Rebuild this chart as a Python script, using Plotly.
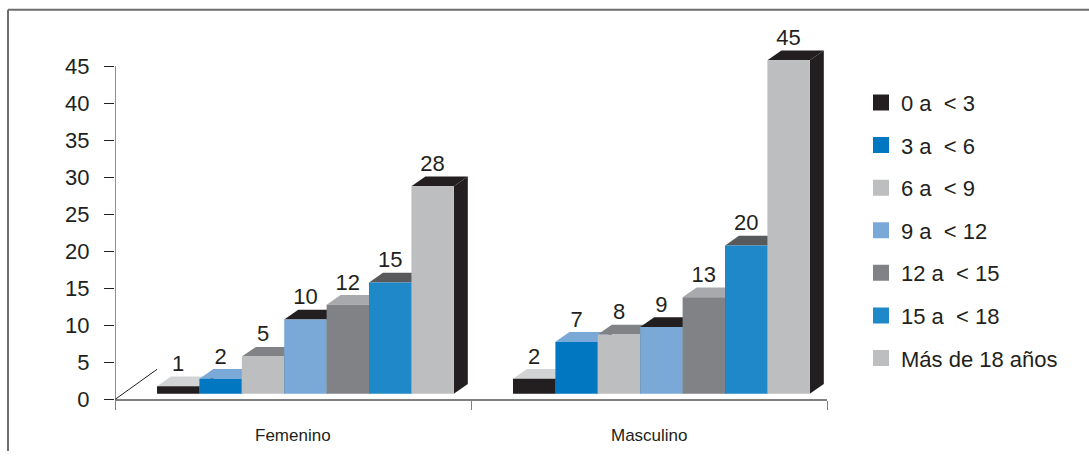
import plotly.graph_objects as go

# ---------------- data ----------------
categories = ["Femenino", "Masculino"]
series_names = ["0 a  < 3", "3 a  < 6", "6 a  < 9", "9 a  < 12",
                "12 a  < 15", "15 a  < 18", "Más de 18 años"]
femenino = [1, 2, 5, 10, 12, 15, 28]
masculino = [2, 7, 8, 9, 13, 20, 45]
y_ticks = [0, 5, 10, 15, 20, 25, 30, 35, 40, 45]

# ---------------- style ----------------
front_colors = ["#231f20", "#0077c0", "#bcbec0", "#7aa9d8", "#808285", "#1f88c9", "#bcbec0"]
top_colors = ["#d1d3d4", "#7aa9d8", "#808285", "#231f20", "#a7a9ac", "#58595b", "#231f20"]
side_color = "#231f20"
text_color = "#231f20"
axis_color = "#808080"
FONT = "Liberation Sans, Arial, sans-serif"

W, H = 1089, 464
X_LEFT_PX, X_RIGHT_PX = 115, 827
Y0_PX, Y45_PX, YTOP_PX = 411, 68, 20
px_per_unit_y = (Y0_PX - Y45_PX) / 45.0
y_max = (Y0_PX - YTOP_PX) / px_per_unit_y
px_per_unit_x = (X_RIGHT_PX - X_LEFT_PX) / 2.0

BAR_W = 42.4 / px_per_unit_x          # bar width in x units
X_START = -0.382                      # first bar left edge relative to category centre
BASE = 6 / px_per_unit_y              # bars sit slightly behind the front floor edge
DX = 14 / px_per_unit_x               # depth of a bar (x)
DY = 10 / px_per_unit_y               # depth of a bar (y)
FLOOR_DX = 42 / px_per_unit_x         # depth of the floor
FLOOR_DY = 31 / px_per_unit_y

values_by_cat = [femenino, masculino]

fig = go.Figure()

for c, vals in enumerate(values_by_cat):
    for i, v in enumerate(vals):
        x0 = c + X_START + i * BAR_W
        x1 = x0 + BAR_W
        yb = BASE
        yt = BASE + v
        # top face
        fig.add_trace(go.Scatter(
            x=[x0, x1, x1 + DX, x0 + DX, x0], y=[yt, yt, yt + DY, yt + DY, yt],
            mode="lines", fill="toself", fillcolor=top_colors[i],
            line=dict(width=0, color=top_colors[i]), hoverinfo="skip", showlegend=False))
        # side face
        fig.add_trace(go.Scatter(
            x=[x1, x1 + DX, x1 + DX, x1, x1], y=[yb, yb + DY, yt + DY, yt, yb],
            mode="lines", fill="toself", fillcolor=side_color,
            line=dict(width=0, color=side_color), hoverinfo="skip", showlegend=False))
        # front face
        fig.add_trace(go.Scatter(
            x=[x0, x1, x1, x0, x0], y=[yb, yb, yt, yt, yb],
            mode="lines", fill="toself", fillcolor=front_colors[i],
            line=dict(width=0, color=front_colors[i]), hoverinfo="skip", showlegend=False))
        # value label
        fig.add_trace(go.Scatter(
            x=[(x0 + x1) / 2], y=[yt + DY], mode="text", text=[str(v)],
            textposition="top center", cliponaxis=False,
            textfont=dict(family=FONT, size=22, color=text_color),
            hoverinfo="skip", showlegend=False))

# legend entries
for i, name in enumerate(series_names):
    fig.add_trace(go.Scatter(
        x=[None], y=[None], mode="markers", name=name, legendgroup=name,
        marker=dict(symbol="square", size=16, color=front_colors[i], line=dict(width=0))))

shapes = [
    # floor depth diagonals
    dict(type="line", xref="x", yref="y", x0=-0.5, y0=0, x1=-0.5 + FLOOR_DX, y1=FLOOR_DY,
         line=dict(color="#231f20", width=1)),
    dict(type="line", xref="x", yref="y", x0=1.5, y0=0, x1=1.5 + FLOOR_DX, y1=FLOOR_DY,
         line=dict(color="#231f20", width=1)),
    # value axis line
    dict(type="line", xref="x", yref="y", x0=-0.5, y0=0, x1=-0.5, y1=45,
         line=dict(color="#231f20", width=1)),
    # frame
    dict(type="line", xref="paper", yref="paper", x0=8 / W, y0=1 - 10 / H, x1=1, y1=1 - 10 / H,
         line=dict(color="#6d6e71", width=2)),
    dict(type="line", xref="paper", yref="paper", x0=8 / W, y0=1 - 10 / H, x1=8 / W, y1=0,
         line=dict(color="#6d6e71", width=2)),
]

annotations = [
    dict(x=c, y=1 - 448 / H, xref="x", yref="paper", text=name, showarrow=False,
         font=dict(family=FONT, size=17, color=text_color), xanchor="center", yanchor="middle")
    for c, name in enumerate(categories)
]

fig.update_layout(
    width=W, height=H, autosize=False,
    margin=dict(l=0, r=0, t=0, b=0),
    paper_bgcolor="white", plot_bgcolor="white",
    font=dict(family=FONT, color=text_color),
    shapes=shapes, annotations=annotations,
    xaxis=dict(
        domain=[X_LEFT_PX / W, X_RIGHT_PX / W], range=[-0.5, 1.5],
        showgrid=False, zeroline=False, showline=True, linecolor=axis_color, linewidth=2,
        tickmode="array", tickvals=[-0.5, 0.5, 1.5], ticktext=["", "", ""],
        ticks="outside", ticklen=9, tickcolor=axis_color, tickwidth=1, fixedrange=True,
    ),
    yaxis=dict(
        domain=[1 - Y0_PX / H, 1 - YTOP_PX / H], range=[0, y_max],
        showgrid=False, zeroline=False, showline=False,
        tickmode="array", tickvals=y_ticks, ticktext=[str(t) for t in y_ticks],
        ticks="outside", ticklen=10, tickcolor="#231f20", tickwidth=1,
        ticklabelstandoff=10,
        tickfont=dict(family=FONT, size=22, color=text_color), fixedrange=True,
    ),
    showlegend=True,
    legend=dict(
        x=861 / W, xanchor="left", y=1 - 84 / H, yanchor="top",
        font=dict(family=FONT, size=22, color=text_color),
        traceorder="grouped", tracegroupgap=11, bgcolor="rgba(0,0,0,0)",
        itemclick=False, itemdoubleclick=False,
    ),
)

fig.write_html("out.html", config={"responsive": False})
